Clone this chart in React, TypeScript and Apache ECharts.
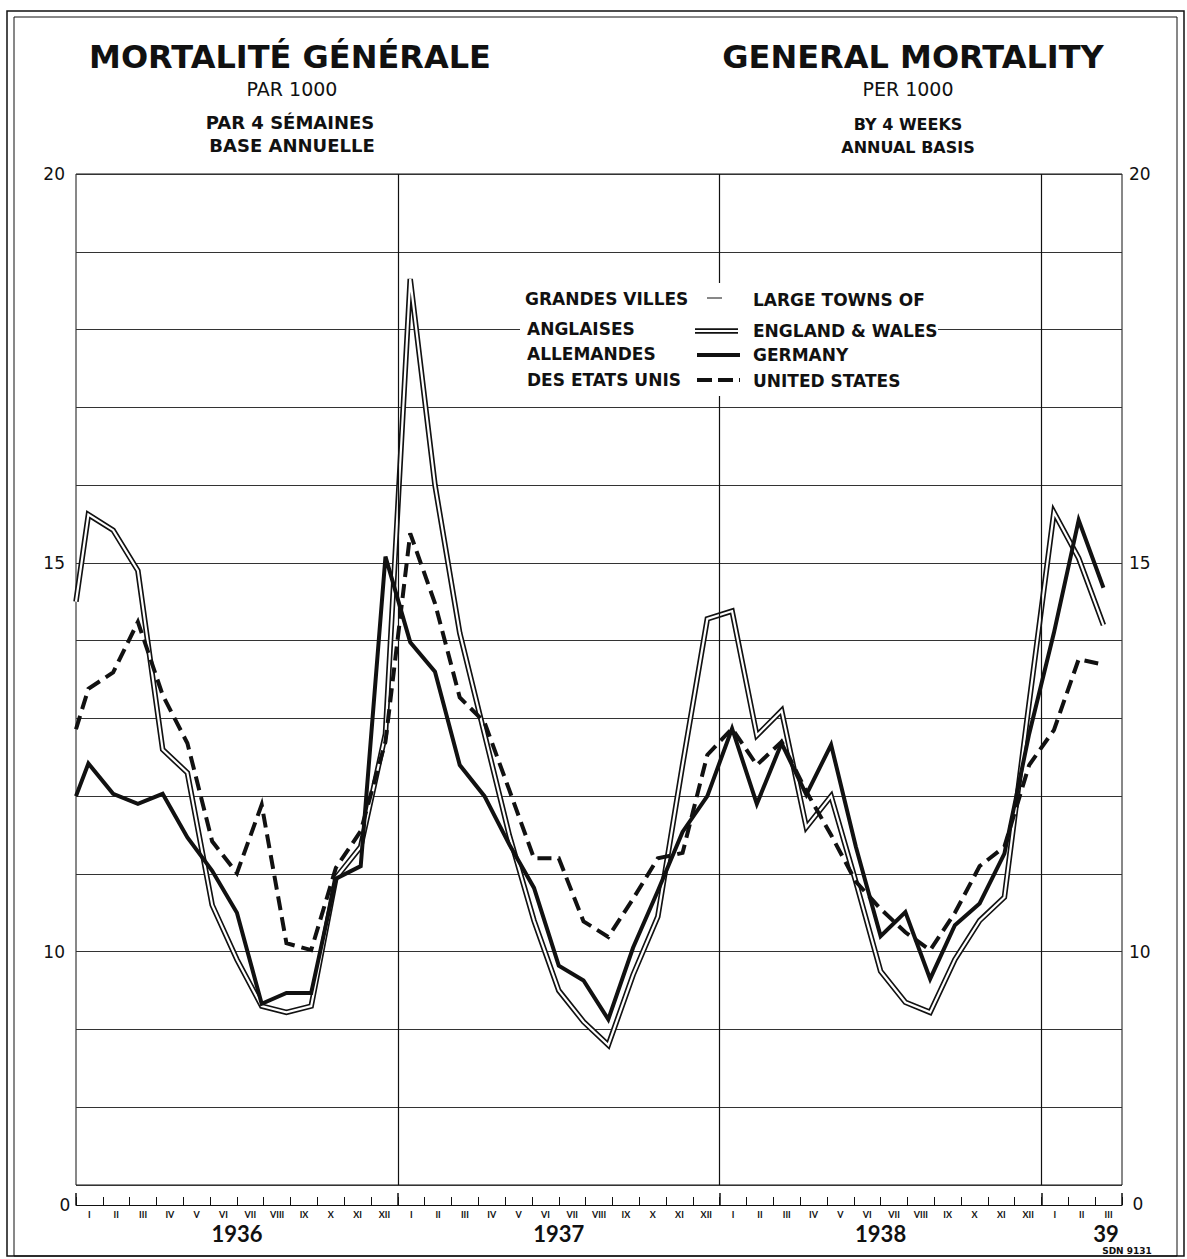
import React, { useEffect, useRef } from "react";
import * as echarts from "echarts";

// ---------- data ----------
const romanMonths = ["I", "II", "III", "IV", "V", "VI", "VII", "VIII", "IX", "X", "XI", "XII"];
const monthLabels = [...romanMonths, ...romanMonths, ...romanMonths, "I", "II", "III"];
const yearLabels = ["1936", "1937", "1938", "39"];
const yearLabelPos = [6, 18, 30, 38.4];
const yearBoundaries = [12, 24, 36];
const yearTickPos = [0, 12, 24, 36, 39];
const yTickLabels = [10, 15, 20];

// first value = start of 1936 (left edge); then 13 four-week periods per year, 3 in 1939
const england = [
  14.5,
  15.62, 15.42, 14.9, 12.6, 12.3, 10.6, 9.9, 9.3, 9.22, 9.3, 10.95, 11.35, 12.8,
  18.65, 16.0, 14.1, 12.8, 11.5, 10.4, 9.5, 9.1, 8.8, 9.7, 10.45, 12.4, 14.28,
  14.38, 12.78, 13.1, 11.6, 12.0, 10.9, 9.75, 9.35, 9.22, 9.9, 10.4, 10.7, 13.2,
  15.65, 15.06, 14.2,
];
const germany = [
  12.0,
  12.42, 12.03, 11.9, 12.03, 11.47, 11.04, 10.5, 9.33, 9.47, 9.47, 10.94, 11.1, 15.08,
  13.98, 13.6, 12.4, 12.0, 11.38, 10.82, 9.82, 9.63, 9.13, 10.05, 10.78, 11.54, 12.0,
  12.87, 11.9, 12.68, 12.02, 12.66, 11.35, 10.2, 10.51, 9.65, 10.34, 10.62, 11.26, 12.8,
  14.1, 15.55, 14.68,
];
const unitedStates = [
  12.86,
  13.38, 13.59, 14.24, 13.3, 12.68, 11.42, 11.01, 11.89, 10.11, 10.02, 11.08, 11.55, 12.7,
  15.38, 14.48, 13.27, 12.95, 12.08, 11.2, 11.2, 10.39, 10.19, 10.68, 11.2, 11.27, 12.53,
  12.87, 12.4, 12.7, 12.06, 11.5, 10.9, 10.55, 10.25, 10.02, 10.5, 11.1, 11.35, 12.4,
  12.85, 13.76, 13.69,
];

// position (in months from Jan 1936) of each value: left edge, then centres of 4-week periods
const periodMonth = (i: number) => (i === 0 ? 0 : ((i - 0.5) * 12) / 13);
const toPairs = (arr: number[]) => arr.map((v, i) => [periodMonth(i), v]);

const FONT = "'DejaVu Sans', Lato, sans-serif";
const FONT_YEAR = "Lato, 'DejaVu Sans', sans-serif";
const INK = "#111";

function txt(text: string, x: number, y: number, size: number, weight: string | number, align = "center", family = FONT) {
  return {
    type: "text",
    x,
    y,
    z: 60,
    silent: true,
    style: {
      text,
      fontSize: size,
      fontWeight: weight,
      fontFamily: family,
      fill: INK,
      align,
      verticalAlign: "middle",
      textAlign: align,
      textVerticalAlign: "middle",
    },
  };
}

function seg(x1: number, y1: number, x2: number, y2: number, width: number, color = INK, dash?: number[]) {
  return {
    type: "line",
    z: 61,
    silent: true,
    shape: { x1, y1, x2, y2 },
    style: { stroke: color, lineWidth: width, lineDash: dash || null },
  };
}

export default function App() {
  const ref = useRef<HTMLDivElement>(null);

  useEffect(() => {
    document.body.style.margin = "0";
    if (!ref.current) return;
    const chart = echarts.init(ref.current, undefined, { renderer: "svg" });

    const option: any = {
      animation: false,
      backgroundColor: "#fff",
      grid: {
        left: 76,
        right: 65,
        top: 174,
        bottom: 74,
        show: true,
        borderColor: INK,
        borderWidth: 1,
      },
      xAxis: [
        { type: "value", min: 0, max: 39, show: false },
        {
          type: "category",
          data: monthLabels,
          position: "bottom",
          offset: 20,
          boundaryGap: true,
          axisLine: { show: true, lineStyle: { color: INK, width: 1 } },
          axisTick: { show: true, inside: true, length: 8, interval: 0, lineStyle: { color: INK, width: 1 } },
          axisLabel: { interval: 0, fontSize: 9, fontWeight: "bold", color: INK, margin: 5, fontFamily: FONT_YEAR },
          splitLine: { show: false },
        },
        {
          type: "value",
          min: 0,
          max: 39,
          position: "bottom",
          offset: 20,
          axisLine: { show: false },
          axisTick: {
            show: true,
            inside: true,
            length: 12,
            customValues: yearTickPos,
            lineStyle: { color: INK, width: 1.5 },
          },
          axisLabel: {
            show: true,
            customValues: yearLabelPos,
            formatter: (v: number) => {
              const k = yearLabelPos.indexOf(v);
              return k >= 0 ? yearLabels[k] : "";
            },
            fontSize: 22,
            fontWeight: "bold",
            color: INK,
            margin: 17,
            fontFamily: FONT_YEAR,
          },
          splitLine: { show: false },
        },
      ],
      yAxis: [
        {
          type: "value",
          min: 7,
          max: 20,
          interval: 1,
          position: "left",
          axisLine: { show: false },
          axisTick: { show: false },
          axisLabel: {
            formatter: (v: number) => (yTickLabels.includes(v) ? String(v) : ""),
            fontSize: 17,
            color: INK,
            margin: 11,
            fontFamily: FONT,
          },
          splitLine: { show: true, lineStyle: { color: "#333", width: 1 } },
        },
        {
          type: "value",
          min: 7,
          max: 20,
          interval: 1,
          position: "right",
          axisLine: { show: false },
          axisTick: { show: false },
          axisLabel: {
            formatter: (v: number) => (yTickLabels.includes(v) ? String(v) : ""),
            fontSize: 17,
            color: INK,
            margin: 7,
            fontFamily: FONT,
          },
          splitLine: { show: false },
        },
      ],
      series: [
        {
          name: "England & Wales",
          type: "line",
          xAxisIndex: 0,
          yAxisIndex: 0,
          data: toPairs(england),
          symbol: "none",
          silent: true,
          z: 2,
          lineStyle: { color: INK, width: 5.5, join: "miter" },
          markLine: {
            silent: true,
            symbol: "none",
            label: { show: false },
            lineStyle: { color: INK, width: 1.2, type: "solid" },
            data: yearBoundaries.map((m) => ({ xAxis: m })),
          },
        },
        {
          name: "England & Wales inner",
          type: "line",
          xAxisIndex: 0,
          yAxisIndex: 0,
          data: toPairs(england),
          symbol: "none",
          silent: true,
          z: 3,
          lineStyle: { color: "#fff", width: 2.2, join: "miter" },
        },
        {
          name: "Germany",
          type: "line",
          xAxisIndex: 0,
          yAxisIndex: 0,
          data: toPairs(germany),
          symbol: "none",
          silent: true,
          z: 4,
          lineStyle: { color: INK, width: 4, join: "miter" },
        },
        {
          name: "United States",
          type: "line",
          xAxisIndex: 0,
          yAxisIndex: 0,
          data: toPairs(unitedStates),
          symbol: "none",
          silent: true,
          z: 5,
          lineStyle: { color: INK, width: 4, type: [14, 7], join: "miter" },
        },
      ],
      graphic: [
        // frame
        {
          type: "rect",
          z: 50,
          silent: true,
          shape: { x: 7, y: 11, width: 1177, height: 1245 },
          style: { fill: "none", stroke: INK, lineWidth: 1.5 },
        },
        {
          type: "rect",
          z: 50,
          silent: true,
          shape: { x: 14, y: 17, width: 1163, height: 1239 },
          style: { fill: "none", stroke: INK, lineWidth: 1 },
        },
        // titles
        txt("MORTALITÉ GÉNÉRALE", 290, 57, 32, "bold"),
        txt("PAR 1000", 292, 89, 19, "normal"),
        txt("PAR 4 SÉMAINES", 290, 122, 18, "bold"),
        txt("BASE ANNUELLE", 292, 145, 18, "bold"),
        txt("GENERAL MORTALITY", 913, 57, 32, "bold"),
        txt("PER 1000", 908, 89, 19, "normal"),
        txt("BY 4 WEEKS", 908, 124, 16, "bold"),
        txt("ANNUAL BASIS", 908, 147, 16, "bold"),
        // legend
        {
          type: "rect",
          z: 55,
          silent: true,
          shape: { x: 520, y: 283, width: 418, height: 113 },
          style: { fill: "#fff", stroke: "none" },
        },
        txt("GRANDES VILLES", 525, 299, 17, "bold", "left"),
        txt("ANGLAISES", 527, 329, 17, "bold", "left"),
        txt("ALLEMANDES", 527, 354, 17, "bold", "left"),
        txt("DES ETATS UNIS", 527, 380, 17, "bold", "left"),
        txt("LARGE TOWNS OF", 753, 300, 17, "bold", "left"),
        txt("ENGLAND & WALES", 753, 331, 17, "bold", "left"),
        txt("GERMANY", 753, 355, 17, "bold", "left"),
        txt("UNITED STATES", 753, 381, 17, "bold", "left"),
        seg(707, 298, 722, 298, 1),
        seg(695, 331, 738, 331, 5.5),
        seg(695, 331, 738, 331, 2.2, "#fff"),
        seg(697, 355, 740, 355, 4),
        seg(697, 380, 740, 380, 4, INK, [15, 6]),
        // axis extras
        txt("0", 65, 1205, 17, "normal"),
        txt("0", 1138, 1204, 17, "normal"),
        txt("SDN 9131", 1127, 1251, 9, "bold"),
      ],
    };

    chart.setOption(option);
    return () => chart.dispose();
  }, []);

  return <div ref={ref} style={{ width: 1187, height: 1259 }} />;
}
